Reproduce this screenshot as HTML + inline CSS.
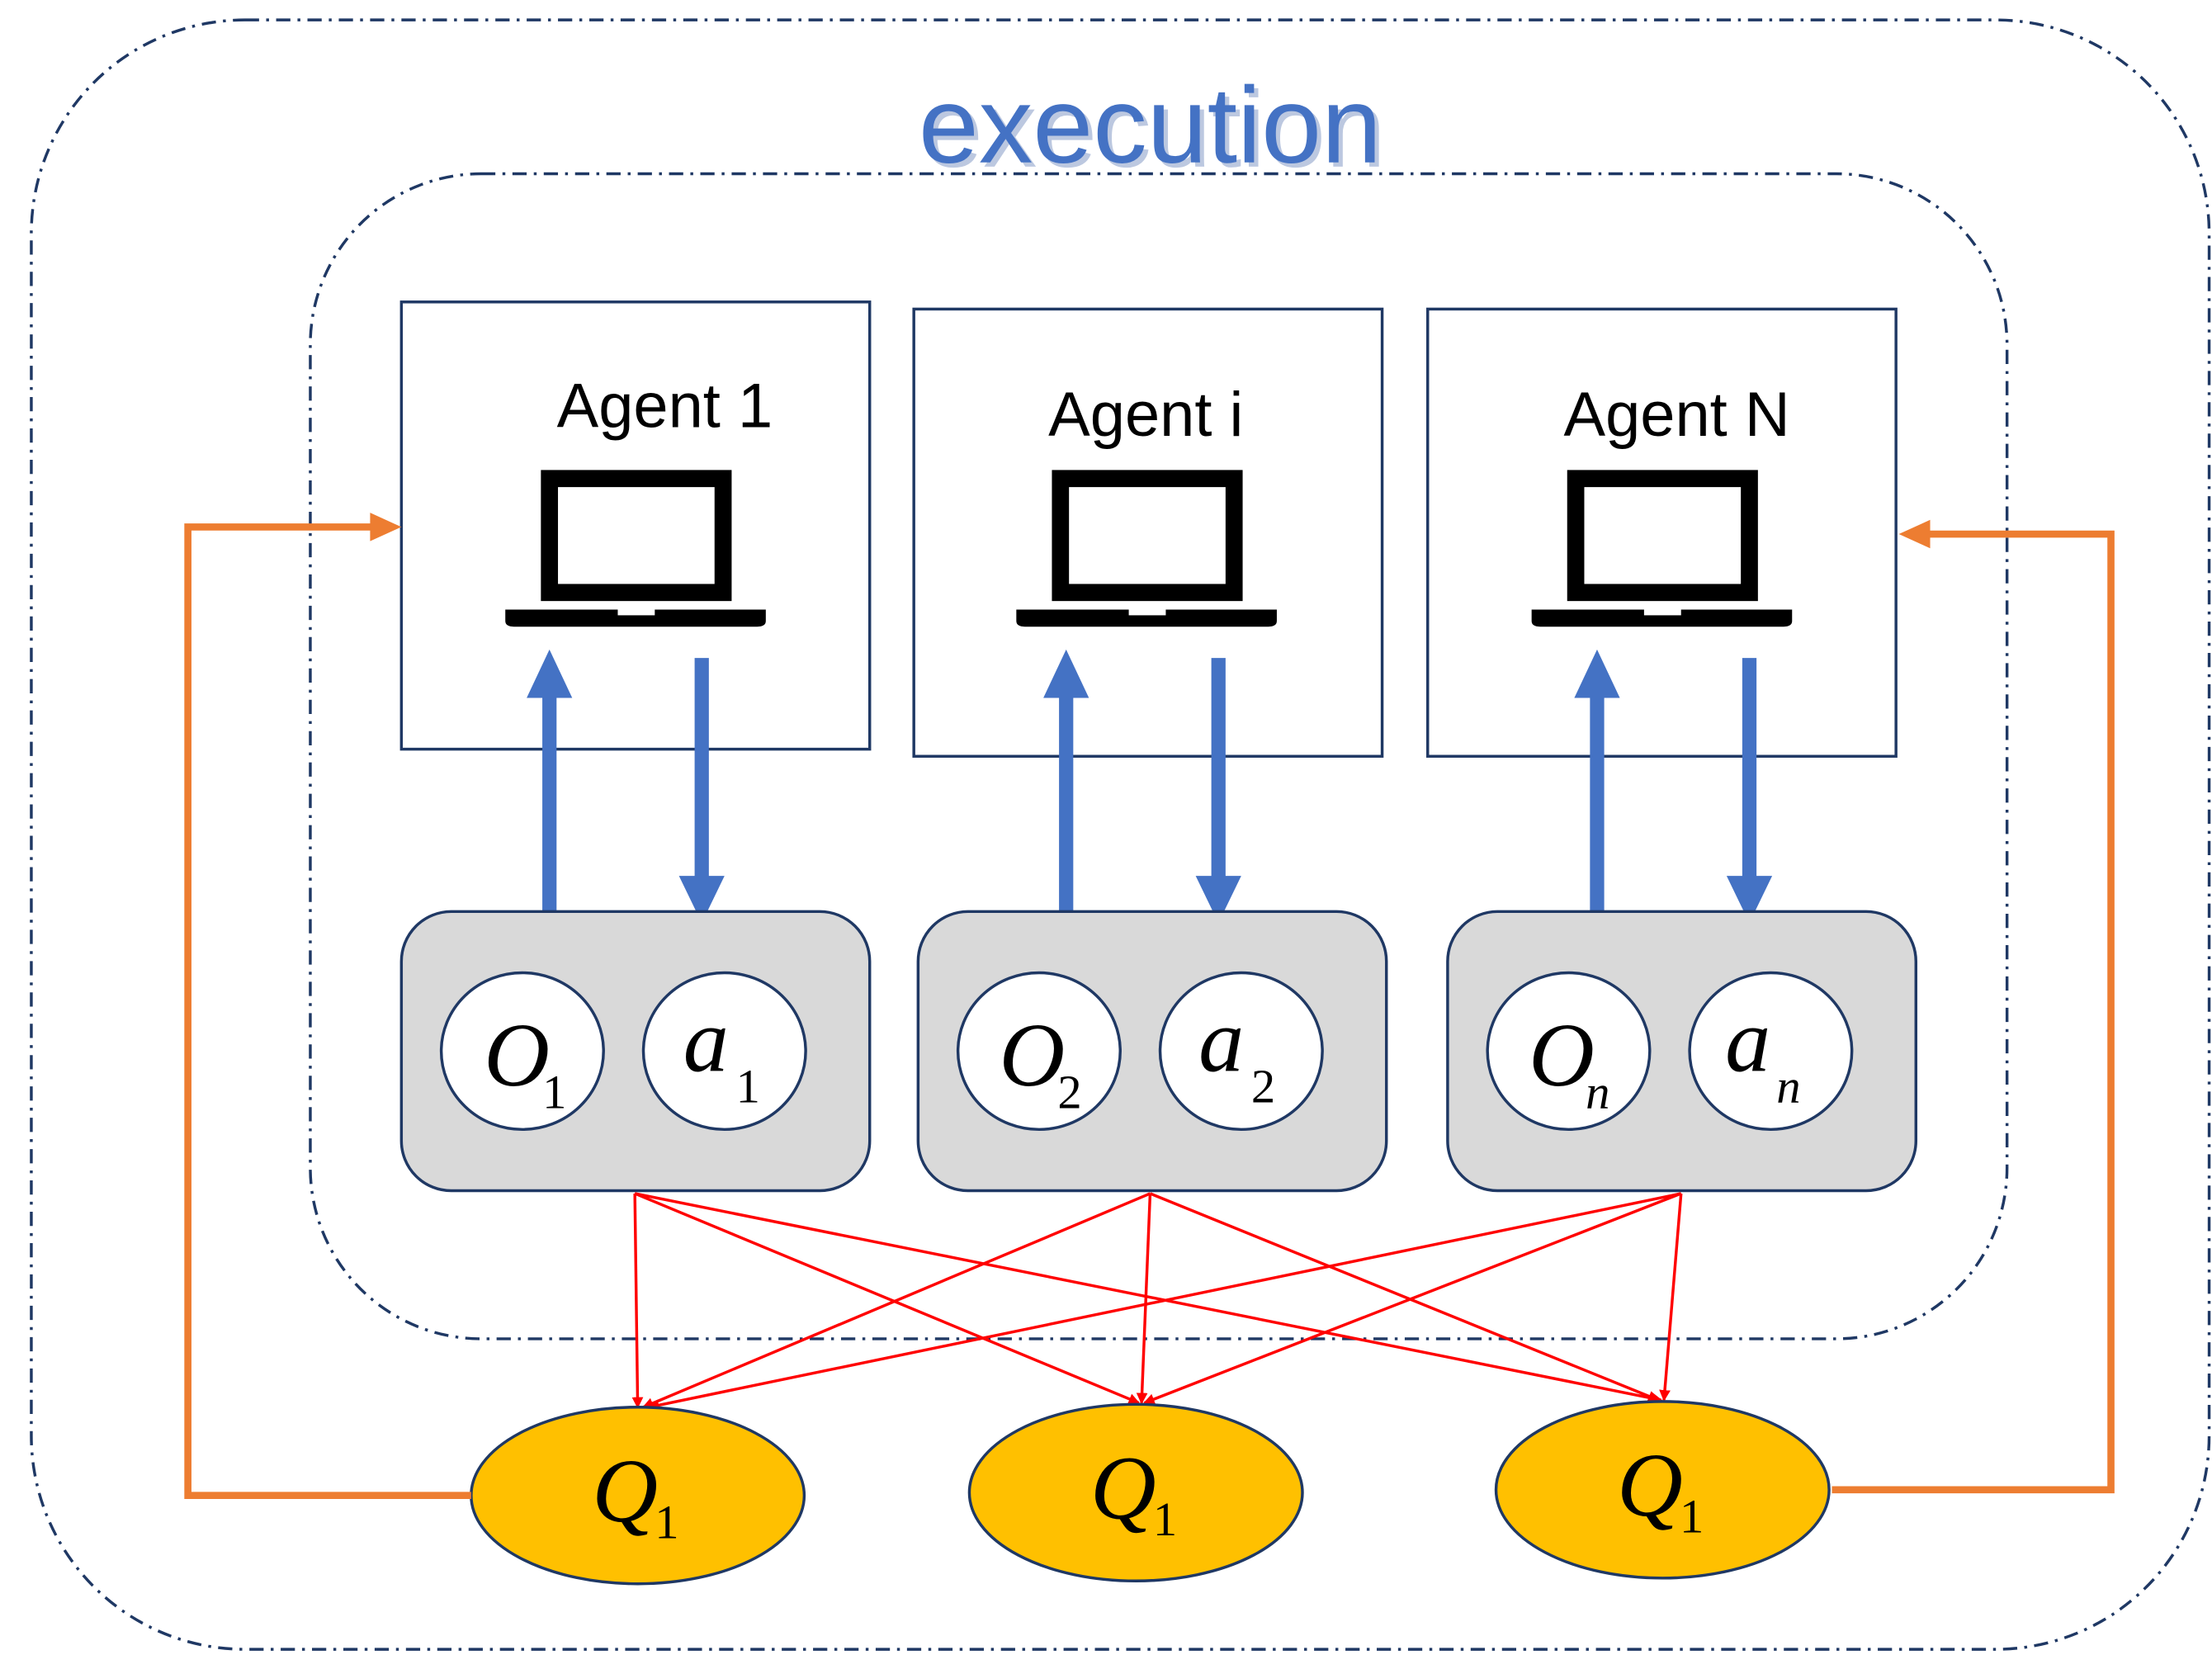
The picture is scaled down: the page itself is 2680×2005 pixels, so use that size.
<!DOCTYPE html>
<html><head><meta charset="utf-8"><style>
html,body{margin:0;padding:0;background:#fff;}
svg{display:block;}
</style></head><body>
<svg width="2680" height="2005" viewBox="0 0 1554 1162" preserveAspectRatio="none" xmlns="http://www.w3.org/2000/svg">
<defs>
<marker id="r" markerWidth="8" markerHeight="8" refX="7" refY="4" orient="auto" markerUnits="userSpaceOnUse" viewBox="0 0 8 8"><path d="M0,0 L8,4 L0,8 z" fill="#ff0000"/></marker>
</defs>
<rect x="22" y="14" width="1530" height="1144" rx="150" fill="none" stroke="#1f3864" stroke-width="2" stroke-dasharray="10,5,2,5"/>
<rect x="218" y="122" width="1192" height="818" rx="120" fill="none" stroke="#1f3864" stroke-width="2" stroke-dasharray="10,5,2,5"/>
<text x="808" y="114" text-anchor="middle" font-family="Liberation Sans, sans-serif" font-size="76" fill="#bcc8e0" transform="translate(3,3)">execution</text>
<text x="808" y="114" text-anchor="middle" font-family="Liberation Sans, sans-serif" font-size="76" fill="#4472c4">execution</text>

<g stroke="#1f3864" stroke-width="2" fill="#fff">
<rect x="282" y="212" width="329" height="314"/>
<rect x="642" y="217" width="329" height="314"/>
<rect x="1003" y="217" width="329" height="314"/>
</g>
<g font-family="Liberation Sans, sans-serif" font-size="44" fill="#000" text-anchor="middle">
<text x="467" y="300">Agent 1</text>
<text x="805" y="306">Agent i</text>
<text x="1178" y="306">Agent N</text>
</g>
<g id="lap">
<rect x="386" y="336" width="122" height="80" fill="none" stroke="#000" stroke-width="12"/>
<path d="M355,428 H538 V436 Q538,440 532,440 H361 Q355,440 355,436 Z" fill="#000"/>
<rect x="434" y="428" width="26" height="4" fill="#fff"/>
</g>
<use href="#lap" x="359" y="0"/>
<use href="#lap" x="721" y="0"/>

<g stroke="#4472c4" stroke-width="10" fill="#4472c4">
<line x1="386" y1="640" x2="386" y2="485"/><polygon points="370,490 402,490 386,456" stroke="none"/>
<line x1="493" y1="462" x2="493" y2="620"/><polygon points="477,615 509,615 493,648" stroke="none"/>
<line x1="749" y1="640" x2="749" y2="485"/><polygon points="733,490 765,490 749,456" stroke="none"/>
<line x1="856" y1="462" x2="856" y2="620"/><polygon points="840,615 872,615 856,648" stroke="none"/>
<line x1="1122" y1="640" x2="1122" y2="485"/><polygon points="1106,490 1138,490 1122,456" stroke="none"/>
<line x1="1229" y1="462" x2="1229" y2="620"/><polygon points="1213,615 1245,615 1229,648" stroke="none"/>
</g>

<g stroke="#1f3864" stroke-width="2" fill="#d9d9d9">
<rect x="282" y="640" width="329" height="196" rx="35"/>
<rect x="645" y="640" width="329" height="196" rx="35"/>
<rect x="1017" y="640" width="329" height="196" rx="35"/>
</g>
<g stroke="#1f3864" stroke-width="2" fill="#fff">
<ellipse cx="367" cy="738" rx="57" ry="55"/><ellipse cx="509" cy="738" rx="57" ry="55"/>
<ellipse cx="730" cy="738" rx="57" ry="55"/><ellipse cx="872" cy="738" rx="57" ry="55"/>
<ellipse cx="1102" cy="738" rx="57" ry="55"/><ellipse cx="1244" cy="738" rx="57" ry="55"/>
</g>
<g font-family="Liberation Serif, serif" fill="#000">
<text x="340" y="762" font-size="64" font-style="italic">O</text><text x="381" y="778" font-size="34">1</text>
<text x="480" y="752" font-size="64" font-style="italic">a</text><text x="517" y="774" font-size="34">1</text>
<text x="702" y="762" font-size="64" font-style="italic">O</text><text x="743" y="778" font-size="34">2</text>
<text x="842" y="752" font-size="64" font-style="italic">a</text><text x="879" y="774" font-size="34">2</text>
<text x="1074" y="762" font-size="64" font-style="italic">O</text><text x="1114" y="778" font-size="34" font-style="italic">n</text>
<text x="1212" y="752" font-size="64" font-style="italic">a</text><text x="1248" y="774" font-size="34" font-style="italic">n</text>
</g>

<g stroke="#ff0000" stroke-width="2" marker-end="url(#r)">
<line x1="446" y1="838" x2="448" y2="988"/>
<line x1="446" y1="838" x2="800" y2="985"/>
<line x1="446" y1="838" x2="1167" y2="983"/>
<line x1="808" y1="838" x2="452" y2="988"/>
<line x1="808" y1="838" x2="802" y2="985"/>
<line x1="808" y1="838" x2="1165" y2="983"/>
<line x1="1181" y1="838" x2="456" y2="988"/>
<line x1="1181" y1="838" x2="804" y2="985"/>
<line x1="1181" y1="838" x2="1169" y2="983"/>
</g>

<g stroke="#1f3864" stroke-width="2" fill="#ffc000">
<ellipse cx="448" cy="1050" rx="117" ry="62"/>
<ellipse cx="798" cy="1048" rx="117" ry="62"/>
<ellipse cx="1168" cy="1046" rx="117" ry="62"/>
</g>
<g font-family="Liberation Serif, serif" fill="#000">
<text x="416" y="1068" font-size="64" font-style="italic">Q</text><text x="460" y="1080" font-size="34">1</text>
<text x="766" y="1066" font-size="64" font-style="italic">Q</text><text x="810" y="1078" font-size="34">1</text>
<text x="1136" y="1064" font-size="64" font-style="italic">Q</text><text x="1180" y="1076" font-size="34">1</text>
</g>

<g stroke="#ed7d31" stroke-width="5" fill="none">
<polyline points="331,1050 132,1050 132,370 262,370"/>
<polyline points="1287,1046 1483,1046 1483,375 1352,375"/>
</g>
<polygon points="282,370 260,360 260,380" fill="#ed7d31"/>
<polygon points="1334,375 1356,365 1356,385" fill="#ed7d31"/>
</svg>
</body></html>
